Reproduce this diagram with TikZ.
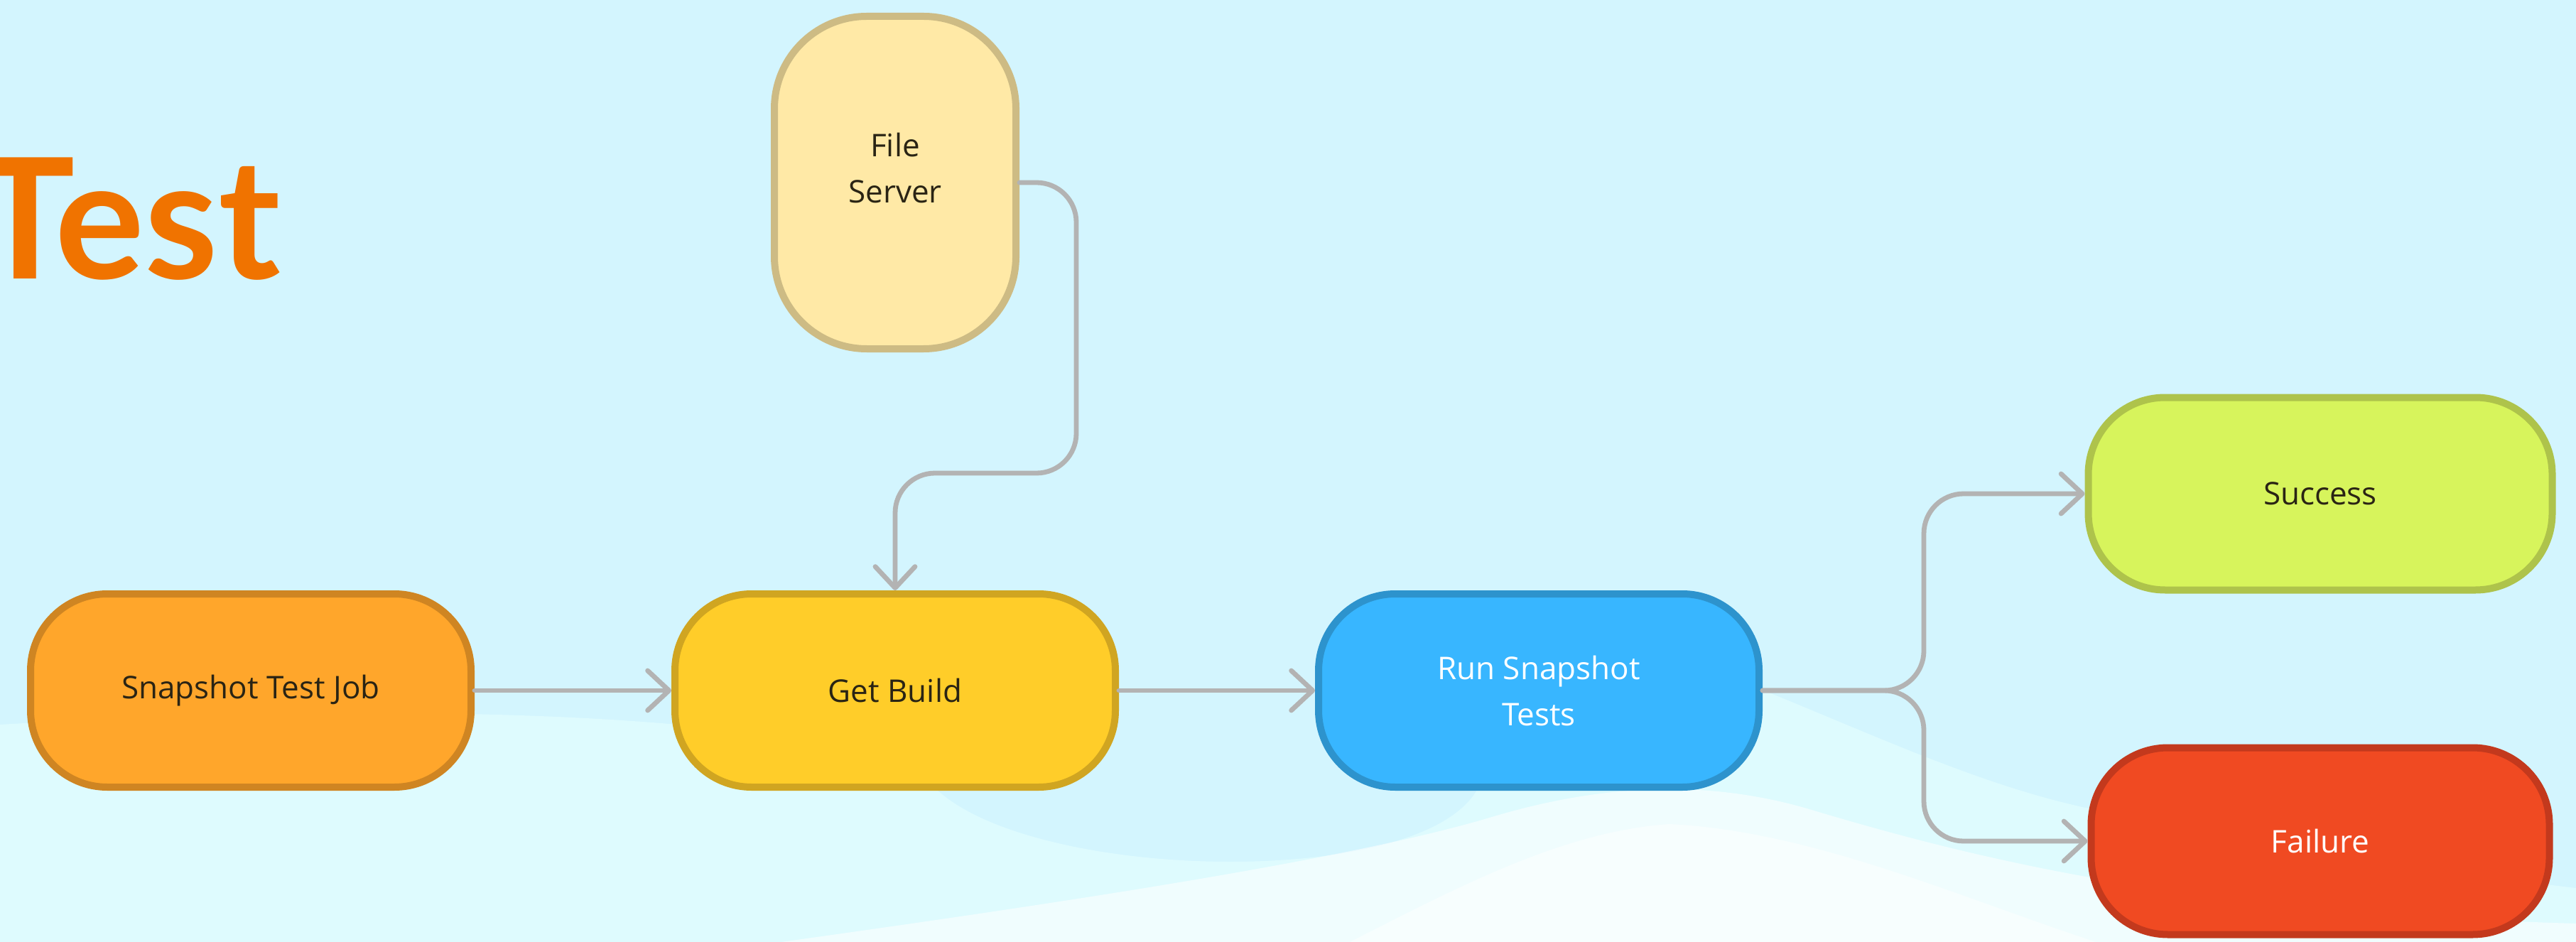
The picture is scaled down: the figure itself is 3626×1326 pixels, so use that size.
\documentclass[tikz,border=0pt]{standalone}
\usepackage{fontspec}
\setmainfont{Open Sans}
\newfontfamily\titlefont{Lato}
\usetikzlibrary{arrows.meta,calc}

\definecolor{bgcyan}{HTML}{D3F5FE}
\definecolor{bglight}{HTML}{DEFBFE}
\definecolor{titleorange}{HTML}{F07300}
\definecolor{flowgray}{HTML}{B3B3B3}
\definecolor{darktext}{HTML}{2A2414}
\definecolor{jobfill}{HTML}{FFA62B}
\definecolor{jobline}{HTML}{CF8522}
\definecolor{buildfill}{HTML}{FFCD29}
\definecolor{buildline}{HTML}{D0A521}
\definecolor{runfill}{HTML}{38B6FF}
\definecolor{runline}{HTML}{2D93CD}
\definecolor{serverfill}{HTML}{FFE9A6}
\definecolor{serverline}{HTML}{CDBB84}
\definecolor{okfill}{HTML}{D7F45C}
\definecolor{okline}{HTML}{AEC34B}
\definecolor{failfill}{HTML}{F04A22}
\definecolor{failline}{HTML}{C3391D}

\tikzset{
  stage/.style={rounded corners=27pt, line width=2.5pt, align=center, inner sep=0pt,
    minimum width=155pt, minimum height=68pt, text=darktext,
    font=\fontsize{11}{16.25}\selectfont},
  flow/.style={draw=flowgray, line width=1.7pt, line cap=round, rounded corners=14pt,
    -{Straight Barb[length=7.5pt,width=14pt,round]}},
}

\begin{document}
\begin{tikzpicture}[x=0.25pt,y=0.25pt,yscale=-1,xscale=1]
\useasboundingbox (0,0) rectangle (3626,1326);

% background
\fill[bgcyan] (0,0) rectangle (3626,1326);
\fill[bglight] (0,1020) .. controls (500,990) and (1100,995) .. (1300,1090) .. controls (1400,1240) and (2000,1260) .. (2080,1110) .. controls (2200,990) and (2380,960) .. (2490,975) .. controls (2650,1040) and (2800,1110) .. (2950,1140) .. controls (3200,1190) and (3450,1230) .. (3626,1250) -- (3626,1326) -- (0,1326) -- cycle;
\fill[white, opacity=0.55] (1100,1326) .. controls (1500,1270) and (1900,1210) .. (2100,1150) .. controls (2250,1105) and (2400,1095) .. (2550,1140) .. controls (2800,1215) and (3100,1285) .. (3626,1300) -- (3626,1326) -- cycle;
\fill[white, opacity=0.5] (1900,1326) .. controls (2050,1250) and (2200,1170) .. (2350,1160) .. controls (2550,1170) and (2750,1260) .. (2950,1326) -- cycle;

% title
\node[anchor=base east, inner sep=0pt, text=titleorange, font=\titlefont\fontsize{59}{60}\selectfont\bfseries] (title) at (396,393) {Test};

% stages
\node[stage, fill=jobfill, draw=jobline] (job) at (353,972) {Snapshot Test Job};
\node[stage, fill=buildfill, draw=buildline] (build) at (1260,972) {Get Build};
\node[stage, fill=runfill, draw=runline, text=white] (run) at (2166,972) {Run Snapshot\\Tests};
\node[stage, fill=serverfill, draw=serverline, rounded corners=32.5pt,
  minimum width=85pt, minimum height=117pt] (server) at (1260,257) {File\\Server\\[-6pt]\mbox{}};
\node[stage, fill=okfill, draw=okline, minimum width=163.25pt, minimum height=67.75pt] (success) at (3266,695) {Success};
\node[stage, fill=failfill, draw=failline, text=white, minimum width=161.25pt, minimum height=65.75pt] (failure) at (3266,1184) {Failure};

% connectors
\draw[flow] (job) -- (build);
\draw[flow] (server.east) -- ++(80,0) |- ($(build.north)+(0,-165)$) -- (build.north);
\draw[flow] (build) -- (run);
\draw[flow] (run.east) -- ++(227,0) |- (success.west);
\draw[flow] (run.east) -- ++(227,0) |- (failure.west);

\end{tikzpicture}
\end{document}
